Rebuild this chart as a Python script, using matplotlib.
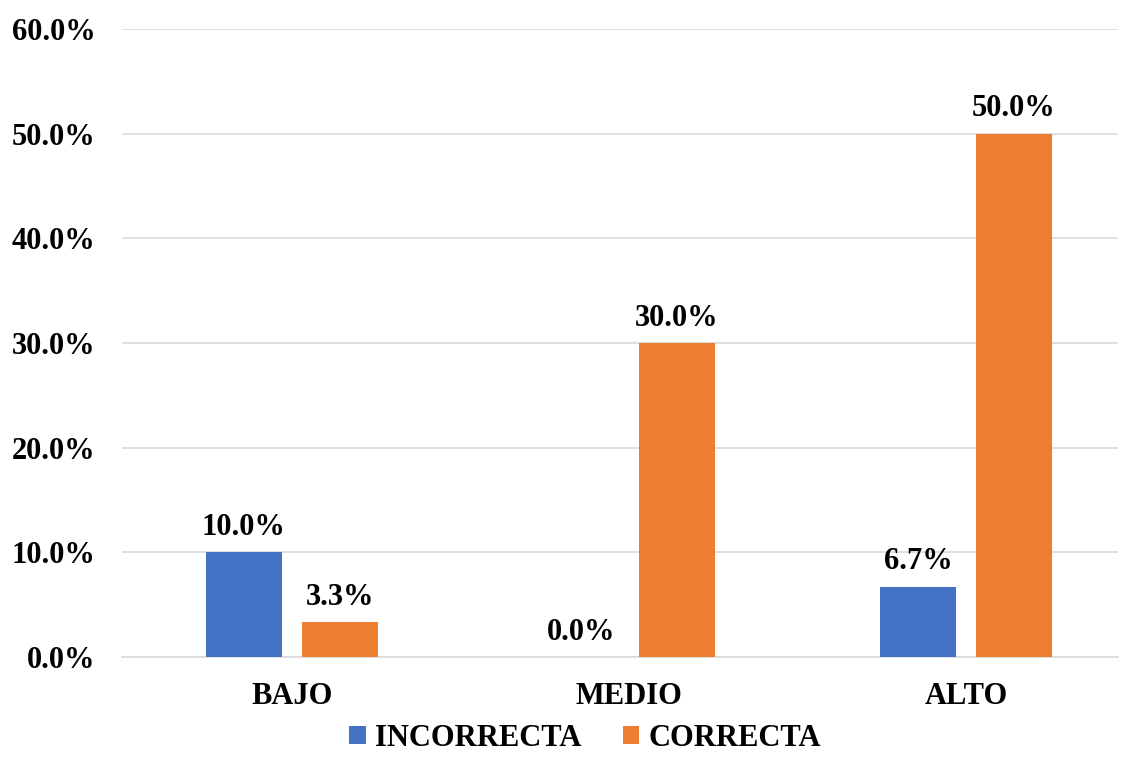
import matplotlib
matplotlib.use("Agg")
import matplotlib.pyplot as plt
import numpy as np

# categories and series
niveles = ["BAJO", "MEDIO", "ALTO"]
incorrecta = [10.0, 0.0, 6.7]
correcta = [3.3, 30.0, 50.0]
yticks = [0, 10, 20, 30, 40, 50, 60]

plt.rcParams['font.family'] = ['Liberation Serif', 'DejaVu Serif']
plt.rcParams['font.weight'] = 'bold'
fs = 22

fig = plt.figure(figsize=[11.21, 7.58], dpi=100)
ax = fig.add_axes([0.1088, 0.1332, 0.8885, 0.8285])

x = np.arange(len(niveles))
w = 0.2255
off = 0.1424
b1 = ax.bar(x - off, incorrecta, w, color='#4472C4', label='INCORRECTA', zorder=3)
b2 = ax.bar(x + off, correcta, w, color='#ED7D31', label='CORRECTA', zorder=3)

# value labels over each bar
for bars, vals in [(b1, incorrecta), (b2, correcta)]:
    for b, v in zip(bars, vals):
        ax.text(b.get_x() + b.get_width() / 2, v + 1.0, '%.1f%%' % v,
                ha='center', va='bottom', fontsize=fs, fontweight='bold')

ax.set_xlim(-0.504, 2.451)
ax.set_ylim(0, 60)
ax.set_yticks(yticks)
ax.set_yticklabels(['%.1f%%' % t for t in yticks], fontsize=fs, fontweight='bold')
ax.set_xticks(x)
ax.set_xticklabels(niveles, fontsize=fs, fontweight='bold')
ax.tick_params(axis='both', length=0)
ax.tick_params(axis='y', pad=19)
ax.tick_params(axis='x', pad=18)

ax.grid(axis='y', color='#D9D9D9', linewidth=1.2, zorder=0)
for s in ['top', 'right', 'left']:
    ax.spines[s].set_visible(False)
ax.spines['bottom'].set_color('#D9D9D9')
ax.spines['bottom'].set_linewidth(1.2)

fig.legend(loc='lower center', ncol=2, frameon=False,
           bbox_to_anchor=(0.522, -0.03), handlelength=0.53, handleheight=0.53,
           columnspacing=1.37, handletextpad=0.3,
           prop={'weight': 'bold', 'size': fs})

fig.savefig('out.png', dpi=100)
